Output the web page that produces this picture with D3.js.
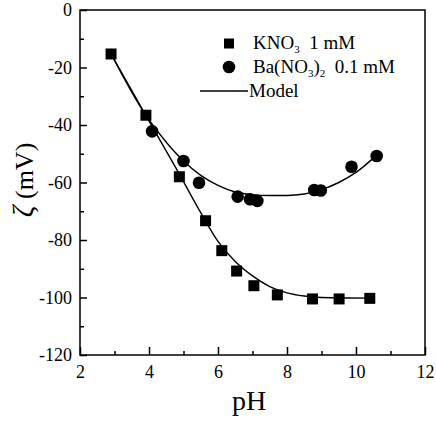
<!DOCTYPE html>
<html><head><meta charset="utf-8">
<script src="https://cdn.jsdelivr.net/npm/d3@7"></script>
<style>body{margin:0;background:#fff}svg{display:block}svg text{font-family:'Liberation Serif','Times New Roman','DejaVu Serif',serif;fill:#000}</style>
</head><body><div id="chart"></div>
<script>
// KNO3 1 mM measurements
const knoPH   = [2.90, 3.91, 4.88, 5.64, 6.11, 6.54, 7.04, 7.72, 8.74, 9.51, 10.40];
const knoZeta = [-15.3, -36.6, -58.0, -73.3, -83.7, -90.8, -95.9, -99.1, -100.5, -100.5, -100.3];
// Ba(NO3)2 0.1 mM measurements
const baPH   = [4.09, 5.00, 5.45, 6.57, 6.93, 7.14, 8.79, 8.98, 9.87, 10.60];
const baZeta = [-42.2, -52.5, -60.1, -64.9, -65.8, -66.4, -62.6, -62.8, -54.5, -50.8];
// Model curves
const modelKnoPH   = [2.9, 3.9, 4.9, 5.5, 6.0, 6.5, 7.0, 7.5, 8.0, 8.5, 9.0, 10.4];
const modelKnoZeta = [-15.3, -36.5, -57.5, -70.5, -80.5, -87.5, -92.5, -96.2, -98.4, -99.5, -100.0, -100.2];
const modelBaPH   = [2.9, 3.9, 4.5, 5.0, 5.5, 6.0, 6.5, 7.0, 7.5, 8.0, 8.5, 9.0, 9.5, 10.0, 10.55];
const modelBaZeta = [-15.3, -36.5, -46.0, -52.5, -57.5, -61.0, -63.3, -64.2, -64.5, -64.5, -64.0, -62.5, -60.0, -56.5, -51.0];
// Ticks
const xTicks = [2, 4, 6, 8, 10, 12];
const xMinor = [3, 5, 7, 9, 11];
const yTicks = [0, -20, -40, -60, -80, -100, -120];
const yMinor = [-10, -30, -50, -70, -90, -110];

const FONT = "'Liberation Serif','Times New Roman','DejaVu Serif',serif";
const W = 436, H = 422;
const L = 80, R = 425, T = 10, B = 355;
const svg = d3.select("#chart").append("svg").attr("width", W).attr("height", H);
const x = d3.scaleLinear().domain([2, 12]).range([L, R]);
const y = d3.scaleLinear().domain([-120, 0]).range([B, T]);

// frame
svg.append("rect").attr("x", L).attr("y", T).attr("width", R - L).attr("height", B - T)
  .attr("fill", "none").attr("stroke", "#000").attr("stroke-width", 1.5);

// axes (ticks inward)
svg.append("g").attr("transform", `translate(0,${B})`)
  .call(d3.axisBottom(x).tickValues(xTicks).tickSize(-8).tickPadding(10).tickFormat(d3.format("d")));
svg.append("g").attr("transform", `translate(0,${B})`)
  .call(d3.axisBottom(x).tickValues(xMinor).tickSize(-4).tickFormat(""));
svg.append("g").attr("transform", `translate(${L},0)`)
  .call(d3.axisLeft(y).tickValues(yTicks).tickSize(-7).tickPadding(8).tickFormat(d => d === 0 ? "0" : "-" + Math.abs(d)));
svg.append("g").attr("transform", `translate(${L},0)`)
  .call(d3.axisLeft(y).tickValues(yMinor).tickSize(-4).tickFormat(""));
svg.selectAll(".domain").remove();
svg.selectAll("g").attr("font-family", null);
svg.selectAll(".tick line").attr("stroke", "#000").attr("stroke-width", 1.5);
svg.selectAll(".tick text").style("font-family", FONT).style("font-size", "18px").attr("fill", "#000");

// model lines
const line = d3.line().x(d => x(d[0])).y(d => y(d[1])).curve(d3.curveMonotoneX);
svg.append("path").datum(modelKnoPH.map((p, i) => [p, modelKnoZeta[i]]))
  .attr("d", line).attr("fill", "none").attr("stroke", "#000").attr("stroke-width", 1.4);
svg.append("path").datum(modelBaPH.map((p, i) => [p, modelBaZeta[i]]))
  .attr("d", line).attr("fill", "none").attr("stroke", "#000").attr("stroke-width", 1.4);

// markers
const sq = 11;
svg.selectAll(".kno").data(knoPH.map((p, i) => [p, knoZeta[i]])).enter().append("rect")
  .attr("x", d => x(d[0]) - sq / 2).attr("y", d => y(d[1]) - sq / 2)
  .attr("width", sq).attr("height", sq).attr("fill", "#000");
svg.selectAll(".ba").data(baPH.map((p, i) => [p, baZeta[i]])).enter().append("circle")
  .attr("cx", d => x(d[0])).attr("cy", d => y(d[1])).attr("r", 6.3).attr("fill", "#000");

// legend
const lg = svg.append("g").style("font-family", FONT);
lg.append("rect").attr("x", 229 - 5).attr("y", 43.5 - 5).attr("width", 10).attr("height", 10).attr("fill", "#000");
const t1 = lg.append("text").attr("x", 253).attr("y", 49).style("font-size", "19px");
t1.append("tspan").text("KNO");
t1.append("tspan").style("font-size", "11px").attr("dy", 4).text("3");
t1.append("tspan").attr("dy", -4).text("\u00a0\u00a01 mM");
lg.append("circle").attr("cx", 229).attr("cy", 67).attr("r", 6.3).attr("fill", "#000");
const t2 = lg.append("text").attr("x", 253).attr("y", 73).style("font-size", "19px");
t2.append("tspan").text("Ba(NO");
t2.append("tspan").style("font-size", "11px").attr("dy", 4).text("3");
t2.append("tspan").attr("dy", -4).text(")");
t2.append("tspan").style("font-size", "11px").attr("dy", 4).text("2");
t2.append("tspan").attr("dy", -4).text("\u00a0\u00a00.1 mM");
lg.append("line").attr("x1", 200).attr("x2", 248).attr("y1", 91).attr("y2", 91).attr("stroke", "#000").attr("stroke-width", 1.4);
lg.append("text").attr("x", 249).attr("y", 97).style("font-size", "19px").text("Model");

// axis titles
svg.append("text").attr("x", 249).attr("y", 410).attr("text-anchor", "middle").style("font-size", "28px").text("pH");
const yt = svg.append("text").attr("transform", "translate(33,180) rotate(-90)").attr("text-anchor", "middle").style("font-size", "26px");
yt.append("tspan").style("font-style", "italic").style("font-size", "29px").text("ζ");
yt.append("tspan").text(" (mV)");
</script></body></html>
